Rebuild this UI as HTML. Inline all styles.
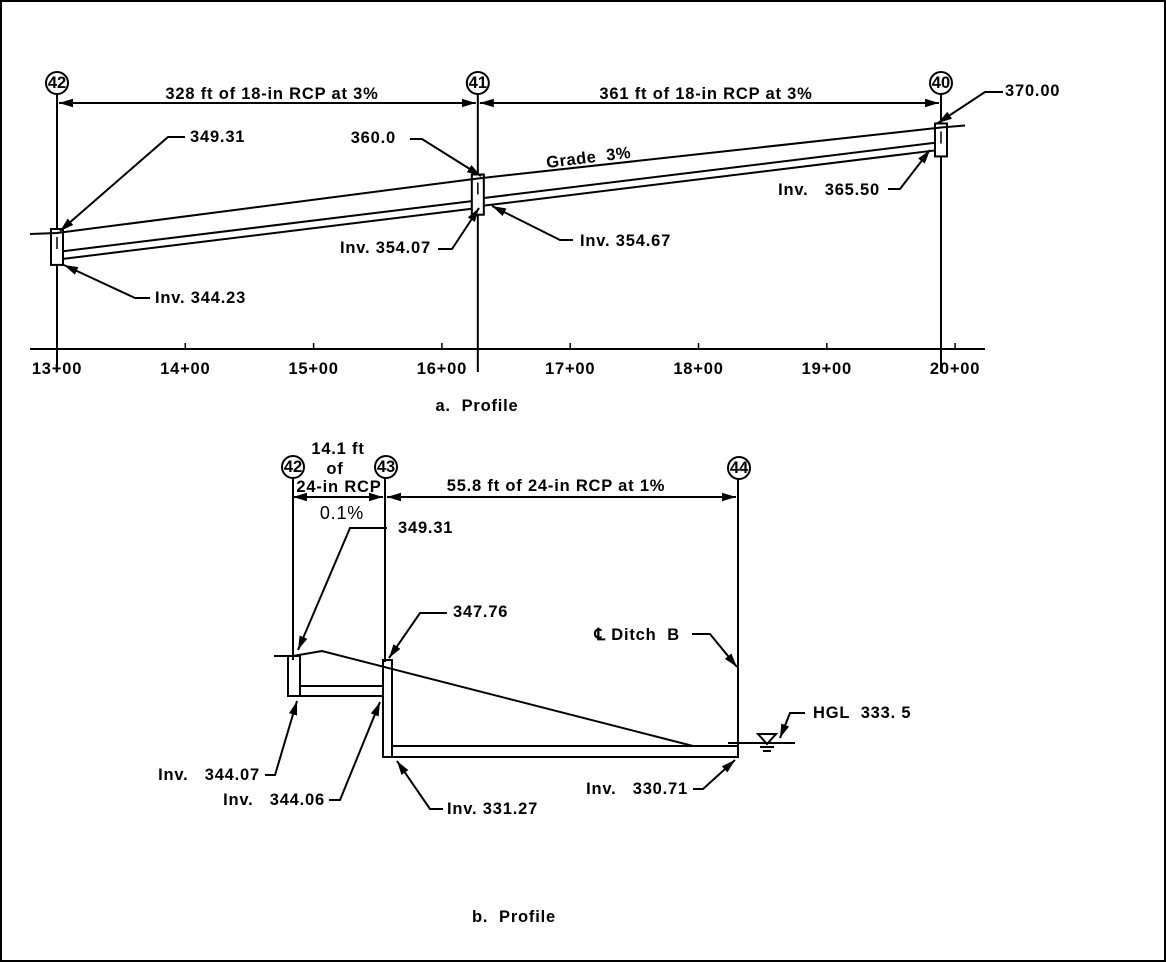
<!DOCTYPE html>
<html><head><meta charset="utf-8"><style>
html,body{margin:0;padding:0;background:#fff}
svg{display:block}
text{font-family:"Liberation Sans",Arial,sans-serif;font-weight:bold;font-size:16.5px;letter-spacing:0.8px;fill:#000;white-space:pre}
</style></head><body>
<svg id="c" xml:space="preserve" width="1166" height="962" viewBox="0 0 1166 962" xmlns="http://www.w3.org/2000/svg">
<defs><marker id="ar" viewBox="0 0 10 10" refX="10" refY="5" markerWidth="7" markerHeight="7" orient="auto-start-reverse"><path d="M0,2 L10,5 L0,8 z" fill="#000"/></marker></defs>
<rect x="1" y="1" width="1164" height="960" fill="none" stroke="#000" stroke-width="2"/>
<g id="top"></g>
<g id="bot" stroke="#000" fill="none" stroke-width="2">
  <line x1="293" y1="478" x2="293" y2="660"/>
  <line x1="385" y1="478" x2="385" y2="662"/>
  <line x1="738" y1="478" x2="738" y2="757"/>
  <line x1="293" y1="497" x2="383" y2="497" marker-start="url(#ar)" marker-end="url(#ar)"/>
  <line x1="387" y1="497" x2="736" y2="497" marker-start="url(#ar)" marker-end="url(#ar)"/>
  <circle cx="293" cy="467" r="11"/>
  <circle cx="386" cy="467" r="11"/>
  <circle cx="739" cy="468" r="11"/>
  <line x1="274" y1="656" x2="293" y2="656"/>
  <polyline points="293,656 322,651 693,746"/>
  <rect x="288" y="656" width="12" height="40"/>
  <polyline points="300,686 383,686 383,696 300,696"/>
  <rect x="383" y="660" width="9" height="97"/>
  <polyline points="392,746 738,746 738,757 392,757"/>
  <line x1="728" y1="743" x2="795" y2="743"/>
  <path d="M758,734 L776,734 L767,744 z"/>
  <line x1="760" y1="747" x2="774" y2="747"/><line x1="763" y1="751" x2="771" y2="751"/>
  <polyline points="387,528 350,528 298,650" marker-end="url(#ar)"/>
  <polyline points="447,613 420,613 389,658" marker-end="url(#ar)"/>
  <polyline points="692,634 710,634 737,667" marker-end="url(#ar)"/>
  <polyline points="805,713 790,713 780,738" marker-end="url(#ar)"/>
  <polyline points="265,775 275,775 297,701" marker-end="url(#ar)"/>
  <polyline points="329,800 340,800 380,702" marker-end="url(#ar)"/>
  <polyline points="443,809 430,809 397,761" marker-end="url(#ar)"/>
  <polyline points="693,789 703,789 735,760" marker-end="url(#ar)"/>
</g>
<g>
  <text x="293" y="472" text-anchor="middle" font-size="14" style="letter-spacing:0">42</text><text x="386" y="472" text-anchor="middle" font-size="14" style="letter-spacing:0">43</text><text x="739" y="473" text-anchor="middle" font-size="14" style="letter-spacing:0">44</text>
  <text x="338" y="454" text-anchor="middle">14.1 ft</text>
  <text x="335" y="474" text-anchor="middle">of</text>
  <text x="339" y="492" text-anchor="middle">24-in RCP</text>
  <text x="342" y="519" text-anchor="middle" style="font-weight:normal;font-size:18px">0.1%</text>
  <text x="556" y="491" text-anchor="middle">55.8 ft of 24-in RCP at 1%</text>
  <text x="398" y="533">349.31</text>
  <text x="453" y="617">347.76</text>
  <text x="680" y="640" text-anchor="end">℄ Ditch  B</text>
  <text x="813" y="718">HGL  333. 5</text>
  <text x="260" y="780" text-anchor="end">Inv.   344.07</text>
  <text x="325" y="805" text-anchor="end">Inv.   344.06</text>
  <text x="447" y="814">Inv. 331.27</text>
  <text x="688" y="794" text-anchor="end">Inv.   330.71</text>
  <text x="514" y="922" text-anchor="middle" font-size="18">b.  Profile</text>
</g>
<script>
const stations=[1300,1400,1500,1600,1700,1800,1900,2000];
const tickLabels=["13+00","14+00","15+00","16+00","17+00","18+00","19+00","20+00"];
const mhIds=["42","41","40"];
const mhStations=[1300,1628,1989];
const groundElev=[349.31,360.0,370.00];
const invIn=[344.23,354.07,365.50];
const invOut=[344.23,354.67,365.50];
const pipeDia=1.5;
const NS="http://www.w3.org/2000/svg";
const g=document.getElementById('top');
const X=s=>57+(s-1300)*1.283;
const Y=e=>233-(e-349.31)*5.1;
function el(t,a,p){const e=document.createElementNS(NS,t);for(const k in a)e.setAttribute(k,a[k]);(p||g).appendChild(e);return e;}
let ax=el('line',{x1:30,y1:349,x2:985,y2:349,stroke:'#000','stroke-width':2});


stations.forEach((s,i)=>{
 const t=el('line',{x1:X(s),y1:343,x2:X(s),y2:349,stroke:'#000','stroke-width':1.5});
 
 
 const l=el('text',{x:X(s),y:374,'text-anchor':'middle','font-size':14.5});l.textContent=tickLabels[i];
 
 
});
mhStations.forEach((s,i)=>{
 const x=X(s);
 el('line',{x1:x,y1:94,x2:x,y2:372,stroke:'#000','stroke-width':2});
 const c=el('circle',{cx:x,cy:83,r:11,fill:'#fff',stroke:'#000','stroke-width':2});
 
 
 const t=el('text',{x:x,y:88,'text-anchor':'middle','font-size':14,style:'letter-spacing:0'});t.textContent=mhIds[i];
 const r=el('rect',{x:x-6,y:Y(groundElev[i])-4,width:12,height:Y(invIn[i])-Y(groundElev[i])+10,fill:'#fff',stroke:'#000','stroke-width':2});
 
 
 el('line',{x1:x,y1:Y(groundElev[i])+4,x2:x,y2:Y(groundElev[i])+16,stroke:'#000','stroke-width':1.5});
});
const gl=el('polyline',{points:[[30,Y(groundElev[0])+1],...mhStations.map((s,i)=>[X(s),Y(groundElev[i])]),[965,Y(groundElev[2])-2]].map(p=>p.join(',')).join(' '),fill:'none',stroke:'#000','stroke-width':2});


for(let i=0;i<2;i++){
 const x1=X(mhStations[i])+6,x2=X(mhStations[i+1])-6;
 const a=invOut[i],b=invIn[i+1];
 const p1=el('line',{x1:x1,y1:Y(a),x2:x2,y2:Y(b),stroke:'#000','stroke-width':2});
 
 
 const p2=el('line',{x1:x1,y1:Y(a+pipeDia),x2:x2,y2:Y(b+pipeDia),stroke:'#000','stroke-width':2});
 
 
 el('line',{x1:X(mhStations[i])+2,y1:103,x2:X(mhStations[i+1])-2,y2:103,stroke:'#000','stroke-width':2,'marker-start':'url(#ar)','marker-end':'url(#ar)'});
}
const labels=[["328 ft of 18-in RCP at 3%",272,99,"middle"],["361 ft of 18-in RCP at 3%",706,99,"middle"],
["349.31",190,142,"start"],["360.0",396,143,"end"],["370.00",1005,96,"start"],["Inv.   365.50",880,195,"end"],
["Inv. 354.07",431,253,"end"],["Inv. 354.67",580,246,"start"],["Inv. 344.23",155,303,"start"]];
labels.forEach(L=>{const t=el('text',{x:L[1],y:L[2],'text-anchor':L[3]});t.textContent=L[0];
 
 });
const gr=el('text',{x:547,y:168,'font-size':12,style:'letter-spacing:0.5px',transform:'rotate(-7 547 168)'});gr.textContent="Grade  3%";
const cap=el('text',{x:477,y:411,'text-anchor':'middle','font-size':18});cap.textContent="a.  Profile";


const leaders=[[[185,137],[168,137],[60,231]],[[410,139],[422,139],[481,176]],[[1003,92],[985,92],[938,123]],[[888,189],[900,189],[930,150]],
[[438,249],[452,249],[479,208]],[[573,240],[560,240],[492,206]],[[150,298],[135,298],[64,265]]];
leaders.forEach(p=>{const l=el('polyline',{points:p.map(q=>q.join(',')).join(' '),fill:'none',stroke:'#000','stroke-width':2,'marker-end':'url(#ar)'});
 
 });
</script>
</svg>
</body></html>
